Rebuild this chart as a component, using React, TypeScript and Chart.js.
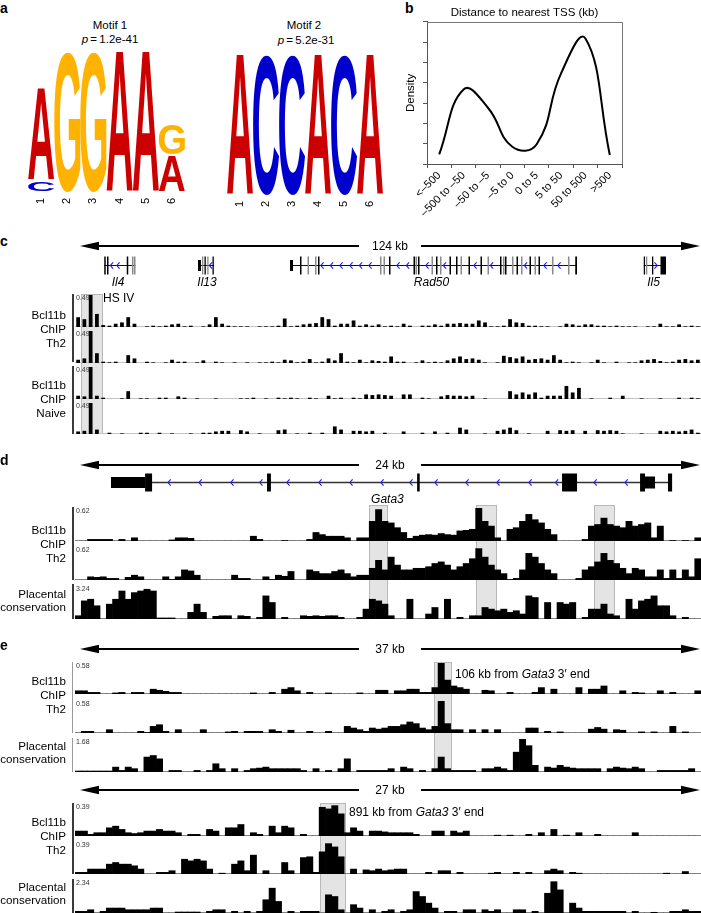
import React, { useEffect, useRef } from 'react';
import { Chart, registerables } from 'chart.js';

Chart.register(...registerables);

const FONT = '"Liberation Sans", Arial, Helvetica, sans-serif';
Chart.defaults.font.family = FONT;
Chart.defaults.color = '#000';

// ---------------- Panel a: sequence logos (bits) ----------------
const motifPositions = ['1', '2', '3', '4', '5', '6'];
const motif1LowerLetters = ['C', 'G', 'G', 'A', 'A', 'A'];
const motif1LowerBits = [0.17, 2.0, 2.0, 2.0, 2.0, 0.52];
const motif1UpperLetters = ['A', '', '', '', '', 'G'];
const motif1UpperBits = [1.33, 0, 0, 0, 0, 0.46];
const motif2Letters = ['A', 'C', 'C', 'A', 'C', 'A'];
const motif2Bits = [2.0, 2.0, 2.0, 2.0, 2.0, 2.0];

// ---------------- Panel b: density ----------------
const tssCategories = ['<\u2013500', '\u2013500 to \u201350', '\u201350 to \u20135', '\u20135 to 0', '0 to 5', '5 to 50', '50 to 500', '>500'];
const tssDensity = [0.47, 3.67, 2.77, 0.85, 0.97, 4.46, 6.18, 0.44];

// ---------------- Panel c: Il4 / Il13 / Rad50 / Il5 locus (124 kb) ----------------
const cSpanKb = 124;
const cGeneNames = ['Il4', 'Il13', 'Rad50', 'Il5'];
const cGeneStartKb = [4.85, 23.6, 42.0, 112.75];
const cGeneEndKb = [11.1, 26.75, 99.4, 117.2];
const cGeneLabelKb = [7.6, 25.4, 70.3, 114.7];
const cExonStartKb = [4.85, 5.4, 9.35, 10.4, 10.8, 23.6, 24.4, 24.9, 25.45, 26.5, 42.0, 44.0, 45.5, 47.0, 47.6, 60.0, 60.7, 61.8, 66.7, 67.1, 67.6, 70.3, 71.2, 72.0, 73.9, 75.2, 76.1, 77.7, 80.1, 81.5, 84.0, 84.6, 85.0, 86.4, 87.3, 88.2, 89.9, 90.9, 91.7, 94.4, 97.6, 99.05, 112.75, 113.2, 114.4, 116.1];
const cExonEndKb = [5.15, 5.7, 9.65, 10.7, 11.1, 24.2, 24.6, 25.15, 25.7, 26.75, 42.6, 44.3, 45.8, 47.3, 47.9, 60.3, 61.0, 62.1, 67.0, 67.4, 67.9, 70.6, 71.5, 72.3, 74.2, 75.5, 76.4, 78.0, 80.4, 81.8, 84.3, 84.9, 85.3, 86.7, 87.6, 88.5, 90.2, 91.2, 92.0, 94.7, 97.9, 99.4, 113.0, 113.45, 114.65, 117.2];
const cExonKind = ['cds', 'cds', 'cds', 'alt', 'alt', 'utr', 'alt', 'cds', 'alt', 'cds', 'utr', 'cds', 'alt', 'alt', 'cds', 'alt', 'alt', 'cds', 'cds', 'alt', 'cds', 'alt', 'cds', 'alt', 'cds', 'cds', 'alt', 'cds', 'cds', 'alt', 'cds', 'alt', 'cds', 'alt', 'cds', 'alt', 'cds', 'alt', 'cds', 'alt', 'alt', 'cds', 'cds', 'alt', 'cds', 'cds'];
const cChevronKb = [6.3, 7.6, 26.1, 48.4, 50.3, 52.2, 54.2, 56.1, 58.0, 63.6, 65.5, 69.4, 72.9, 79.0, 82.3, 89.1, 93.0, 95.8, 115.2];
const cChevronDir = ['<', '<', '<', '<', '<', '<', '<', '<', '<', '<', '<', '<', '<', '<', '<', '<', '<', '<', '>'];

const cTh2TrackA = [
  0.15, 0.12, 0.49, 0.2, 0.03, 0.02, 0.05, 0.07, 0.15, 0.05,
  0, 0.01, 0.02, 0.01, 0.02, 0.04, 0.05, 0.01, 0.02, 0,
  0.01, 0.04, 0.15, 0.05, 0.02, 0.01, 0.01, 0.01, 0, 0.01,
  0.01, 0.01, 0.02, 0.13, 0.01, 0.02, 0.04, 0.05, 0.06, 0.15,
  0.12, 0.02, 0.05, 0.05, 0.1, 0.02, 0.04, 0.02, 0.04, 0.01,
  0.02, 0.01, 0.05, 0.02, 0, 0.02, 0.02, 0.04, 0.02, 0.05,
  0.05, 0.06, 0.05, 0.05, 0.1, 0.07, 0.01, 0.01, 0.02, 0.12,
  0.07, 0.06, 0.02, 0.02, 0.01, 0.01, 0, 0.01, 0.05, 0.04,
  0.02, 0.04, 0.04, 0.02, 0.02, 0.01, 0.02, 0.01, 0.01, 0.01,
  0, 0.01, 0.01, 0.05, 0.01, 0.01, 0.04, 0.01, 0.02, 0.01,
];
const cTh2TrackB = [
  0.05, 0.07, 0.49, 0.15, 0.02, 0.01, 0.02, 0, 0.12, 0.07,
  0, 0.02, 0.01, 0, 0.01, 0.05, 0.02, 0.02, 0, 0.01,
  0.04, 0, 0.02, 0.01, 0, 0.01, 0, 0.01, 0, 0.01,
  0.01, 0.02, 0.01, 0.05, 0.04, 0.01, 0.02, 0.06, 0.01, 0.02,
  0.07, 0.04, 0.15, 0.02, 0.01, 0.05, 0.01, 0.04, 0.03, 0.02,
  0.1, 0.02, 0.02, 0, 0.01, 0.04, 0.01, 0.02, 0.01, 0.04,
  0.07, 0.1, 0.06, 0.07, 0.05, 0.01, 0, 0.01, 0.11, 0.09,
  0.07, 0.1, 0.05, 0.06, 0.07, 0.05, 0.12, 0.05, 0.01, 0.02,
  0.01, 0, 0.01, 0.05, 0.01, 0, 0.02, 0, 0.01, 0.01,
  0.04, 0.05, 0.06, 0.03, 0.01, 0.02, 0.05, 0.06, 0.04, 0.05,
];
const cNaiveTrackA = [
  0.05, 0.04, 0.49, 0.05, 0.02, 0, 0, 0.01, 0.12, 0,
  0.01, 0.01, 0, 0.02, 0.02, 0, 0.04, 0.02, 0, 0.01,
  0, 0, 0.01, 0, 0, 0, 0.01, 0.01, 0.02, 0,
  0.01, 0, 0.02, 0.01, 0.02, 0.01, 0, 0.02, 0.01, 0,
  0.05, 0.01, 0.02, 0, 0.02, 0.01, 0.07, 0.06, 0.07, 0.06,
  0.05, 0, 0.07, 0.07, 0, 0.02, 0.01, 0, 0.04, 0.06,
  0.05, 0.05, 0.04, 0.05, 0, 0.01, 0, 0, 0, 0.12,
  0.07, 0.1, 0.07, 0.1, 0.02, 0.05, 0.05, 0.05, 0.2, 0.1,
  0.17, 0, 0.01, 0, 0, 0.02, 0, 0.05, 0, 0,
  0.01, 0, 0, 0.01, 0, 0, 0.02, 0, 0.02, 0.01,
];
const cNaiveTrackB = [
  0.04, 0.05, 0.49, 0.07, 0, 0.02, 0, 0.01, 0, 0,
  0.02, 0.02, 0, 0.02, 0, 0.01, 0, 0, 0.01, 0,
  0.02, 0.02, 0.04, 0.05, 0.05, 0, 0.06, 0.04, 0, 0.01,
  0, 0, 0.06, 0.07, 0, 0.01, 0, 0.02, 0, 0.02,
  0, 0.12, 0.07, 0, 0.05, 0.05, 0.04, 0.05, 0, 0.02,
  0, 0, 0.04, 0, 0, 0.02, 0, 0.04, 0, 0.02,
  0, 0.1, 0.07, 0, 0, 0.01, 0, 0.05, 0.07, 0.1,
  0.06, 0, 0.01, 0, 0, 0.05, 0, 0.06, 0.05, 0.06,
  0, 0.05, 0, 0.06, 0.05, 0.06, 0.05, 0.01, 0, 0,
  0.01, 0, 0, 0.05, 0.04, 0.05, 0.04, 0.05, 0.07, 0.02,
];

// ---------------- Panel d: Gata3 locus (24 kb) ----------------
const dSpanKb = 24;
const dGeneNames = ['Gata3'];
const dGeneStartKb = [1.2];
const dGeneEndKb = [22.92];
const dGeneLabelKb = [11.9];
const dExonStartKb = [1.2, 2.52, 7.24, 13.05, 18.66, 21.68, 21.87, 22.76];
const dExonEndKb = [2.52, 2.79, 7.39, 13.15, 19.24, 21.87, 22.26, 22.92];
const dExonKind = ['utr', 'cds', 'cds', 'cds', 'cds', 'cds', 'mid', 'cds'];
const dChevronKb = [3.45, 4.65, 5.88, 7.0, 8.05, 9.29, 10.49, 11.69, 12.81, 13.78, 14.98, 16.18, 17.42, 18.45, 19.94, 21.14];
const dChevronDir = ['<', '<', '<', '<', '<', '<', '<', '<', '<', '<', '<', '<', '<', '<', '<', '<'];

const dTh2TrackA = [
  0, 0, 0.03, 0.03, 0.03, 0.03, 0, 0.03, 0, 0.06,
  0, 0, 0, 0, 0, 0.02, 0.06, 0.06, 0.05, 0,
  0, 0, 0, 0, 0, 0, 0, 0, 0.09, 0.03,
  0, 0, 0, 0.01, 0, 0, 0, 0.03, 0.16, 0.12,
  0.09, 0.09, 0.09, 0.06, 0, 0.06, 0.06, 0.37, 0.59, 0.37,
  0.34, 0.25, 0.16, 0.05, 0.09, 0.11, 0.12, 0.11, 0.14, 0.12,
  0.11, 0.19, 0.2, 0.22, 0.62, 0.37, 0.28, 0.06, 0, 0.22,
  0.25, 0.37, 0.5, 0.4, 0.34, 0.22, 0.12, 0, 0, 0,
  0, 0.03, 0.28, 0.31, 0.43, 0.31, 0.28, 0.25, 0.37, 0.28,
  0.31, 0.34, 0.06, 0.28, 0, 0.01, 0, 0.01, 0, 0.06,
];
const dTh2TrackB = [
  0, 0, 0.06, 0.05, 0.06, 0.03, 0.03, 0, 0.05, 0.09,
  0.06, 0, 0, 0, 0.06, 0.01, 0.06, 0.19, 0.17, 0.09,
  0, 0, 0, 0, 0, 0.09, 0.03, 0.03, 0, 0,
  0.06, 0.01, 0.09, 0.07, 0.16, 0, 0, 0.19, 0.16, 0.12,
  0.12, 0.16, 0.19, 0.12, 0.06, 0.09, 0.09, 0.22, 0.37, 0.19,
  0.43, 0.28, 0.19, 0.19, 0.22, 0.22, 0.25, 0.31, 0.34, 0.28,
  0.19, 0.25, 0.31, 0.4, 0.59, 0.43, 0.28, 0.19, 0.12, 0.01,
  0.03, 0.19, 0.5, 0.43, 0.31, 0.19, 0.12, 0, 0, 0,
  0.03, 0.19, 0.25, 0.34, 0.5, 0.37, 0.31, 0.22, 0.12, 0.22,
  0.19, 0.06, 0.06, 0.19, 0.03, 0.19, 0.03, 0.19, 0.06, 0.4,
];
const dConservation = [
  0.32, 1.78, 1.94, 1.3, 0, 1.46, 1.94, 2.75, 1.94, 2.59,
  2.75, 2.92, 2.75, 0.1, 0.1, 0.1, 0, 0, 0.65, 1.46,
  0.65, 0, 0.26, 0.32, 0.32, 0, 0.32, 0.26, 0, 0.16,
  2.27, 1.62, 0, 0.16, 0, 0, 0.32, 0.26, 0.32, 0.26,
  0.32, 0.32, 0.16, 0, 0, 0.16, 0.97, 1.94, 1.78, 1.46,
  0.32, 0, 0, 1.94, 0, 0, 0.49, 1.13, 0, 1.94,
  0, 0.16, 0, 0.32, 0.32, 1.13, 0.97, 0.81, 0.97, 0.65,
  0.81, 0.49, 2.27, 2.11, 0, 1.62, 0, 1.62, 1.46, 1.62,
  0, 0.16, 0.97, 0.97, 1.46, 0.49, 0.32, 0, 1.94, 0.97,
  1.78, 1.94, 2.27, 1.3, 1.3, 0.32, 0, 0.16, 0, 0,
];

// ---------------- Panel e: 106 kb (37 kb window) and 891 kb (27 kb window) ----------------
const eNearSpanKb = 37;
const eFarSpanKb = 27;
const eNearTh2TrackA = [
  0.06, 0.06, 0.03, 0.03, 0, 0, 0.02, 0.03, 0, 0.03,
  0.03, 0, 0.09, 0.07, 0.05, 0.03, 0.03, 0, 0, 0,
  0, 0, 0, 0, 0, 0, 0, 0, 0.02, 0,
  0, 0.03, 0, 0.09, 0.12, 0.06, 0, 0.03, 0, 0,
  0.02, 0, 0, 0, 0, 0.02, 0, 0, 0.07, 0.07,
  0, 0.06, 0.06, 0.09, 0.09, 0.03, 0.03, 0.12, 0.58, 0.26,
  0.15, 0.12, 0.09, 0, 0, 0.07, 0.06, 0, 0, 0.03,
  0, 0, 0, 0.03, 0.12, 0, 0.09, 0, 0, 0,
  0.12, 0, 0.09, 0.09, 0.15, 0, 0, 0.06, 0, 0.03,
  0.02, 0, 0, 0.06, 0, 0.03, 0, 0, 0, 0.06,
];
const eNearTh2TrackB = [
  0, 0.03, 0.03, 0, 0, 0.06, 0, 0, 0, 0,
  0.03, 0.01, 0.12, 0.15, 0.03, 0, 0.06, 0, 0, 0,
  0.06, 0, 0, 0, 0.02, 0.03, 0, 0.03, 0.03, 0.03,
  0, 0.06, 0.03, 0, 0.05, 0, 0, 0.03, 0, 0,
  0.03, 0, 0, 0.12, 0.09, 0.06, 0.03, 0.09, 0.07, 0.09,
  0.12, 0.12, 0.15, 0.2, 0.17, 0.09, 0.06, 0.12, 0.58, 0.17,
  0.06, 0.06, 0, 0.06, 0, 0.06, 0, 0.06, 0, 0,
  0, 0, 0.09, 0.09, 0, 0.03, 0, 0.02, 0, 0,
  0, 0, 0.07, 0.1, 0.07, 0, 0.06, 0.05, 0, 0,
  0.02, 0, 0.02, 0, 0, 0.12, 0, 0.02, 0, 0,
];
const eNearConservation = [
  0.05, 0.05, 0.05, 0.05, 0.05, 0.05, 0.25, 0.08, 0.25, 0.17,
  0, 0.76, 0.84, 0.67, 0, 0.08, 0.08, 0, 0, 0.08,
  0, 0.08, 0.42, 0.17, 0, 0.17, 0, 0.08, 0.17, 0.2,
  0.25, 0.17, 0.17, 0.17, 0.17, 0.17, 0.08, 0, 0.17, 0,
  0.08, 0, 0.17, 0.67, 0, 0.08, 0.08, 0.08, 0.08, 0.08,
  0.17, 0, 0.25, 0.17, 0, 0.08, 0, 0.17, 0.76, 0.17,
  0.08, 0.08, 0.08, 0.08, 0, 0.17, 0.17, 0.25, 0.17, 0.08,
  1.01, 1.68, 1.34, 0.34, 0, 0.25, 0.2, 0.34, 0.25, 0.2,
  0.17, 0.17, 0.17, 0.17, 0, 0.17, 0.25, 0.2, 0.17, 0.25,
  0.17, 0, 0, 0.08, 0.08, 0.08, 0.08, 0.08, 0.17, 0,
];
const eFarTh2TrackA = [
  0.06, 0.06, 0.02, 0.04, 0.04, 0.1, 0.12, 0.08, 0.04, 0.03,
  0.04, 0.06, 0.06, 0.08, 0.06, 0.06, 0.04, 0, 0.02, 0.02,
  0, 0.08, 0.06, 0, 0.1, 0.1, 0.14, 0, 0.04, 0.02,
  0, 0.12, 0.04, 0.12, 0.1, 0, 0.02, 0, 0, 0.35,
  0.33, 0.37, 0.27, 0.04, 0.1, 0.06, 0, 0.06, 0.06, 0.05,
  0.04, 0.04, 0.04, 0.04, 0.02, 0, 0, 0.06, 0.06, 0,
  0.06, 0.04, 0.06, 0, 0, 0, 0, 0.01, 0, 0.01,
  0, 0, 0.02, 0, 0.04, 0, 0.08, 0, 0.01, 0,
  0.04, 0, 0, 0.02, 0, 0, 0, 0, 0, 0.04,
  0, 0, 0, 0, 0, 0, 0, 0, 0, 0,
];
const eFarTh2TrackB = [
  0.02, 0.02, 0.06, 0.06, 0.06, 0.12, 0.14, 0.12, 0.12, 0.1,
  0.06, 0, 0, 0.02, 0.02, 0.04, 0, 0.18, 0.16, 0.18,
  0.16, 0.06, 0, 0.01, 0, 0.12, 0.16, 0.04, 0.23, 0,
  0.04, 0, 0, 0.14, 0.04, 0, 0.2, 0.21, 0.02, 0.27,
  0.37, 0.33, 0.21, 0, 0.06, 0, 0.05, 0.04, 0.06, 0.04,
  0.05, 0.06, 0.06, 0, 0, 0, 0.02, 0, 0.04, 0.04,
  0, 0.02, 0, 0, 0, 0, 0.01, 0.02, 0, 0,
  0.02, 0, 0.02, 0, 0, 0.04, 0.06, 0.04, 0, 0.02,
  0.01, 0, 0, 0, 0, 0, 0, 0, 0, 0,
  0, 0, 0, 0, 0.01, 0, 0, 0.03, 0, 0,
];
const eFarConservation = [
  0.12, 0.12, 0.23, 0, 0.12, 0.35, 0.35, 0.35, 0.23, 0.23,
  0.23, 0.23, 0.35, 0.35, 0, 0, 0.07, 0.07, 0.07, 0.07,
  0, 0.12, 0.23, 0.23, 0, 0.12, 0, 0.12, 0, 0.12,
  0.94, 1.76, 0.82, 0, 0.12, 0, 0.12, 0.12, 0.12, 0,
  1.29, 1.17, 0.23, 0, 0.59, 0.35, 0, 0.23, 0, 0.12,
  0.23, 0, 0.12, 0.23, 1.52, 1.17, 0.7, 0.35, 0, 0.12,
  0.12, 0, 0.23, 0.23, 0, 0.23, 0.12, 0.23, 0, 0,
  0.23, 0.23, 0, 0.12, 0, 1.4, 2.22, 1.64, 0, 0.7,
  0.35, 0.12, 0.12, 0.12, 0.12, 0.12, 0.12, 0.12, 0, 0.12,
  0, 0, 0.05, 0, 0, 0.12, 0.12, 0.23, 0.12, 0.12,
];

// ---------------- helpers ----------------
const letterColors: Record<string, string> = { A: '#cc0000', C: '#0000cc', G: '#ffb300', T: '#008000' };
const exonStyle: Record<string, { h: number; c: string }> = {
  cds: { h: 18, c: '#000' },
  alt: { h: 18, c: '#8a8a8a' },
  utr: { h: 11, c: '#000' },
  mid: { h: 12, c: '#000' },
};

function drawLetter(ctx: CanvasRenderingContext2D, ch: string, x: number, y: number, w: number, h: number) {
  if (!ch || w <= 0 || h <= 0) return;
  ctx.save();
  ctx.font = `bold 200px ${FONT}`;
  const m = ctx.measureText(ch);
  const gl = m.actualBoundingBoxLeft;
  const gw = m.actualBoundingBoxLeft + m.actualBoundingBoxRight;
  const ga = m.actualBoundingBoxAscent;
  const gh = m.actualBoundingBoxAscent + m.actualBoundingBoxDescent;
  ctx.translate(x, y);
  ctx.scale(w / gw, h / gh);
  ctx.fillStyle = letterColors[ch] || '#000';
  ctx.textAlign = 'left';
  ctx.textBaseline = 'alphabetic';
  ctx.fillText(ch, gl, ga);
  ctx.restore();
}

function makeLogoPlugin(letterSets: string[][]) {
  return {
    id: 'logoLetters',
    afterDatasetsDraw(chart: any) {
      const ctx = chart.ctx;
      chart.data.datasets.forEach((_d: any, di: number) => {
        const meta = chart.getDatasetMeta(di);
        meta.data.forEach((el: any, i: number) => {
          const p = el.getProps(['x', 'y', 'base', 'width'], true);
          const top = Math.min(p.y, p.base);
          const bottom = Math.max(p.y, p.base);
          if (bottom - top < 3) return;
          drawLetter(ctx, letterSets[di][i], p.x - p.width / 2, top + 1.5, p.width, bottom - top - 3);
        });
      });
    },
  };
}

function logoConfig(lower: number[], upper: number[], letterSets: string[][], padL: number, padR: number): any {
  return {
    type: 'bar',
    data: {
      labels: motifPositions,
      datasets: [
        { data: lower, backgroundColor: 'rgba(0,0,0,0)', borderWidth: 0, barPercentage: 1, categoryPercentage: 1 },
        { data: upper, backgroundColor: 'rgba(0,0,0,0)', borderWidth: 0, barPercentage: 1, categoryPercentage: 1 },
      ],
    },
    options: {
      animation: false,
      responsive: false,
      layout: { padding: { left: padL, right: padR, top: 10, bottom: 0 } },
      plugins: { legend: { display: false }, tooltip: { enabled: false } },
      scales: {
        x: {
          stacked: true,
          grid: { display: false, drawTicks: false },
          border: { display: false },
          ticks: { minRotation: 90, maxRotation: 90, padding: 5, color: '#000', font: { family: FONT, size: 11 } },
          afterFit: (s: any) => { s.height = 27; },
        },
        y: { stacked: true, display: false, min: 0, max: 2 },
      },
    },
    plugins: [makeLogoPlugin(letterSets)],
  };
}

const frameBox = {
  id: 'frameBox',
  afterDraw(chart: any) {
    const { left, top, right, bottom } = chart.chartArea;
    const ctx = chart.ctx;
    ctx.save();
    ctx.strokeStyle = '#777';
    ctx.lineWidth = 1;
    ctx.beginPath();
    ctx.moveTo(left, Math.round(top) + 0.5);
    ctx.lineTo(Math.round(right) + 0.5, Math.round(top) + 0.5);
    ctx.lineTo(Math.round(right) + 0.5, bottom);
    ctx.stroke();
    ctx.restore();
  },
};

function densityConfig(): any {
  return {
    type: 'line',
    data: {
      labels: tssCategories,
      datasets: [{ data: tssDensity, borderColor: '#000', borderWidth: 2, pointRadius: 0, tension: 0.45, fill: false }],
    },
    options: {
      animation: false,
      responsive: false,
      layout: { padding: { left: 0, right: 79, top: 0, bottom: 0 } },
      plugins: {
        legend: { display: false },
        tooltip: { enabled: false },
        title: {
          display: true,
          text: 'Distance to nearest TSS (kb)',
          fullSize: false,
          color: '#000',
          font: { family: FONT, size: 11.5, weight: 'normal' },
          padding: { top: 6, bottom: 2 },
        },
      },
      scales: {
        x: {
          offset: true,
          grid: { offset: true, drawOnChartArea: false, drawTicks: true, tickLength: 4, color: '#555' },
          border: { color: '#555' },
          ticks: { autoSkip: false, minRotation: 45, maxRotation: 45, padding: 1, color: '#000', font: { family: FONT, size: 11 } },
          afterFit: (s: any) => { s.height = 66; },
        },
        y: {
          min: 0,
          max: 7,
          ticks: { display: false, stepSize: 1 },
          grid: { drawOnChartArea: false, drawTicks: true, tickLength: 4, color: '#555' },
          border: { color: '#555' },
          title: { display: true, text: 'Density', color: '#000', font: { family: FONT, size: 11.5 }, padding: { top: 9, bottom: 0 } },
          afterFit: (s: any) => { s.width = 32; },
        },
      },
    },
    plugins: [frameBox],
  };
}

function makeGenePlugin(spec: any) {
  return {
    id: 'geneModel',
    afterDraw(chart: any) {
      const ctx: CanvasRenderingContext2D = chart.ctx;
      const xs = chart.scales.x;
      const px = (v: number) => xs.getPixelForValue(v);
      const x0 = px(0);
      const x1 = px(spec.spanKb);
      const cx = (x0 + x1) / 2;
      const ay = spec.arrowY;
      const head = 19;
      const half = 4.2;
      const gap = 31;
      ctx.save();
      ctx.strokeStyle = '#000';
      ctx.lineWidth = 2;
      ctx.beginPath();
      ctx.moveTo(x0 + head - 2, ay);
      ctx.lineTo(cx - gap, ay);
      ctx.moveTo(cx + gap, ay);
      ctx.lineTo(x1 - head + 2, ay);
      ctx.stroke();
      ctx.fillStyle = '#000';
      ctx.beginPath();
      ctx.moveTo(x0, ay); ctx.lineTo(x0 + head, ay - half); ctx.lineTo(x0 + head, ay + half); ctx.closePath(); ctx.fill();
      ctx.beginPath();
      ctx.moveTo(x1, ay); ctx.lineTo(x1 - head, ay - half); ctx.lineTo(x1 - head, ay + half); ctx.closePath(); ctx.fill();
      ctx.font = `12px ${FONT}`;
      ctx.textAlign = 'center';
      ctx.textBaseline = 'middle';
      ctx.fillText(spec.scaleLabel, cx, ay + 0.5);

      const gy = spec.geneY;
      (spec.geneStart || []).forEach((s: number, i: number) => {
        ctx.strokeStyle = spec.lineColor;
        ctx.lineWidth = spec.lineWidth;
        ctx.beginPath();
        ctx.moveTo(px(s), gy);
        ctx.lineTo(px(spec.geneEnd[i]), gy);
        ctx.stroke();
      });
      ctx.strokeStyle = '#1a1aff';
      ctx.lineWidth = 1.1;
      (spec.chevronKb || []).forEach((k: number, i: number) => {
        const x = px(k);
        const d = spec.chevronDir[i] === '<' ? 1 : -1;
        ctx.beginPath();
        ctx.moveTo(x + d * 1.6, gy - 3.2);
        ctx.lineTo(x - d * 1.2, gy);
        ctx.lineTo(x + d * 1.6, gy + 3.2);
        ctx.stroke();
      });
      (spec.exonStart || []).forEach((s: number, i: number) => {
        const st = exonStyle[spec.exonKind[i]];
        const a = px(s);
        const b = Math.max(px(spec.exonEnd[i]), a + 1.3);
        ctx.fillStyle = st.c;
        ctx.fillRect(a, gy - st.h / 2, b - a, st.h);
      });
      ctx.fillStyle = '#000';
      ctx.font = `italic 12px ${FONT}`;
      ctx.textAlign = 'center';
      ctx.textBaseline = 'middle';
      (spec.geneNames || []).forEach((n: string, i: number) => {
        ctx.fillText(n, px(spec.labelKb[i]), spec.labelY);
      });
      ctx.restore();
    },
  };
}

function geneConfig(spec: any): any {
  return {
    type: 'scatter',
    data: { datasets: [] },
    options: {
      animation: false,
      responsive: false,
      layout: { padding: { left: 80, right: 1, top: 0, bottom: 0 } },
      plugins: { legend: { display: false }, tooltip: { enabled: false } },
      scales: {
        x: { type: 'linear', min: 0, max: spec.spanKb, display: false },
        y: { min: 0, max: 1, display: false },
      },
    },
    plugins: [makeGenePlugin(spec)],
  };
}

const baselinePlugin = {
  id: 'trackBaseline',
  beforeDatasetsDraw(chart: any) {
    const { left, right, bottom } = chart.chartArea;
    const ctx = chart.ctx;
    ctx.save();
    ctx.strokeStyle = '#c4c4c4';
    ctx.lineWidth = 1;
    ctx.beginPath();
    ctx.moveTo(left, bottom - 0.5);
    ctx.lineTo(right, bottom - 0.5);
    ctx.stroke();
    ctx.restore();
  },
};

function trackConfig(values: number[], max: number, barPct: number): any {
  return {
    type: 'bar',
    data: {
      labels: values.map((_v, i) => String(i)),
      datasets: [{ data: values, backgroundColor: '#000', borderWidth: 0, barPercentage: barPct, categoryPercentage: 1 }],
    },
    options: {
      animation: false,
      responsive: false,
      layout: { padding: 0 },
      plugins: { legend: { display: false }, tooltip: { enabled: false } },
      scales: {
        x: { display: false },
        y: { display: false, min: 0, max },
      },
    },
    plugins: [baselinePlugin],
  };
}

function ChartCanvas({ left, top, width, height, build }: any) {
  const ref = useRef<HTMLCanvasElement | null>(null);
  useEffect(() => {
    const chart = new Chart(ref.current as HTMLCanvasElement, build());
    return () => chart.destroy();
  }, []);
  return (
    <div style={{ position: 'absolute', left, top, width, height }}>
      <canvas ref={ref} width={width} height={height} style={{ display: 'block', width, height }} />
    </div>
  );
}

function Txt({ x, y, size = 12, align = 'left', bold = false, italic = false, color = '#000', children }: any) {
  const h = Math.round(size * 1.4);
  const style: any = {
    position: 'absolute',
    top: y - h / 2,
    height: h,
    lineHeight: h + 'px',
    fontSize: size,
    fontWeight: bold ? 'bold' : 'normal',
    fontStyle: italic ? 'italic' : 'normal',
    whiteSpace: 'nowrap',
    color,
  };
  if (align === 'left') style.left = x;
  else if (align === 'right') { style.left = x - 400; style.width = 400; style.textAlign = 'right'; }
  else { style.left = x - 200; style.width = 400; style.textAlign = 'center'; }
  return <div style={style}>{children}</div>;
}

function Box({ x, y, w, h }: any) {
  return <div style={{ position: 'absolute', left: x, top: y, width: w, height: h, background: '#e4e4e4', border: '1px solid #b8b8b8', boxSizing: 'border-box' }} />;
}

function VLine({ x, y, h, w = 2, color = '#3a3a3a' }: any) {
  return <div style={{ position: 'absolute', left: x, top: y, width: w, height: h, background: color }} />;
}

function Track({ top, bottom, values, max, pct = 1, maxLabel }: any) {
  const h = bottom - top + 1;
  return (
    <>
      <ChartCanvas left={75} top={top} width={626} height={h} build={() => trackConfig(values, max, pct)} />
      <Txt x={76} y={top + 3} size={7} color="#333">{maxLabel}</Txt>
    </>
  );
}

const TRACK_LEFT_LABEL_X = 66;

export default function App() {
  return (
    <div style={{ position: 'absolute', left: 0, top: 0, width: 701, height: 913, background: '#fff', fontFamily: FONT, color: '#000', overflow: 'hidden' }}>
      {/* highlight boxes */}
      <Box x={81} y={294} w={22} h={140} />
      <Box x={369} y={505} w={19} h={114} />
      <Box x={476} y={505} w={21} h={114} />
      <Box x={594} y={505} w={21} h={114} />
      <Box x={434} y={662} w={18} h={110} />
      <Box x={320} y={803} w={26} h={110} />

      {/* axis lines */}
      <VLine x={72} y={294} h={68} />
      <VLine x={72} y={366} h={68} />
      <VLine x={72} y={507} h={73} />
      <VLine x={72} y={584} h={35} />
      <VLine x={72} y={662} h={71} w={1} color="#9a9a9a" />
      <VLine x={72} y={738} h={34} w={1} color="#9a9a9a" />
      <VLine x={72} y={803} h={71} />
      <VLine x={72} y={879} h={34} />

      {/* panel a */}
      <Txt x={0} y={8} size={14} bold>a</Txt>
      <Txt x={110} y={25} size={11.5} align="center">Motif 1</Txt>
      <Txt x={110} y={39} size={11.5} align="center"><i>p</i>{'\u2009=\u2009'}1.2e-41</Txt>
      <Txt x={304} y={25} size={11.5} align="center">Motif 2</Txt>
      <Txt x={306} y={40} size={11.5} align="center"><i>p</i>{'\u2009=\u2009'}5.2e-31</Txt>
      <ChartCanvas left={20} top={40} width={175} height={180}
        build={() => logoConfig(motif1LowerBits, motif1UpperBits, [motif1LowerLetters, motif1UpperLetters], 8, 10)} />
      <ChartCanvas left={219} top={43} width={175} height={180}
        build={() => logoConfig(motif2Bits, [0, 0, 0, 0, 0, 0], [motif2Letters, ['', '', '', '', '', '']], 8, 11)} />

      {/* panel b */}
      <Txt x={405} y={8} size={14} bold>b</Txt>
      <ChartCanvas left={395} top={0} width={306} height={230} build={densityConfig} />

      {/* panel c */}
      <Txt x={0} y={241} size={14} bold>c</Txt>
      <ChartCanvas left={0} top={236} width={701} height={56}
        build={() => geneConfig({
          spanKb: cSpanKb, scaleLabel: '124 kb', arrowY: 10, geneY: 29.5, labelY: 47,
          geneNames: cGeneNames, geneStart: cGeneStartKb, geneEnd: cGeneEndKb, labelKb: cGeneLabelKb,
          exonStart: cExonStartKb, exonEnd: cExonEndKb, exonKind: cExonKind,
          chevronKb: cChevronKb, chevronDir: cChevronDir, lineColor: '#111', lineWidth: 1,
        })} />
      <Track top={295} bottom={326} values={cTh2TrackA} max={0.49} pct={0.6} maxLabel="0.49" />
      <Track top={331} bottom={362} values={cTh2TrackB} max={0.49} pct={0.6} maxLabel="0.49" />
      <Track top={367} bottom={398} values={cNaiveTrackA} max={0.49} pct={0.6} maxLabel="0.49" />
      <Track top={403} bottom={433} values={cNaiveTrackB} max={0.49} pct={0.6} maxLabel="0.49" />
      <Txt x={103} y={298} size={12}>HS IV</Txt>
      <Txt x={TRACK_LEFT_LABEL_X} y={315} size={11.6} align="right">Bcl11b</Txt>
      <Txt x={TRACK_LEFT_LABEL_X} y={329} size={11.6} align="right">ChIP</Txt>
      <Txt x={TRACK_LEFT_LABEL_X} y={343} size={11.6} align="right">Th2</Txt>
      <Txt x={TRACK_LEFT_LABEL_X} y={385} size={11.6} align="right">Bcl11b</Txt>
      <Txt x={TRACK_LEFT_LABEL_X} y={399} size={11.6} align="right">ChIP</Txt>
      <Txt x={TRACK_LEFT_LABEL_X} y={413} size={11.6} align="right">Naive</Txt>

      {/* panel d */}
      <Txt x={0} y={460} size={14} bold>d</Txt>
      <ChartCanvas left={0} top={455} width={701} height={52}
        build={() => geneConfig({
          spanKb: dSpanKb, scaleLabel: '24 kb', arrowY: 10, geneY: 27.5, labelY: 45,
          geneNames: dGeneNames, geneStart: dGeneStartKb, geneEnd: dGeneEndKb, labelKb: dGeneLabelKb,
          exonStart: dExonStartKb, exonEnd: dExonEndKb, exonKind: dExonKind,
          chevronKb: dChevronKb, chevronDir: dChevronDir, lineColor: '#333', lineWidth: 1.5,
        })} />
      <Track top={508} bottom={540} values={dTh2TrackA} max={0.62} maxLabel="0.62" />
      <Track top={547} bottom={579} values={dTh2TrackB} max={0.62} maxLabel="0.62" />
      <Track top={586} bottom={618} values={dConservation} max={3.24} maxLabel="3.24" />
      <Txt x={TRACK_LEFT_LABEL_X} y={530} size={11.6} align="right">Bcl11b</Txt>
      <Txt x={TRACK_LEFT_LABEL_X} y={544} size={11.6} align="right">ChIP</Txt>
      <Txt x={TRACK_LEFT_LABEL_X} y={558} size={11.6} align="right">Th2</Txt>
      <Txt x={TRACK_LEFT_LABEL_X} y={594} size={11.6} align="right">Placental</Txt>
      <Txt x={TRACK_LEFT_LABEL_X} y={607} size={11.6} align="right">conservation</Txt>

      {/* panel e */}
      <Txt x={0} y={645} size={14} bold>e</Txt>
      <ChartCanvas left={0} top={640} width={701} height={20}
        build={() => geneConfig({ spanKb: eNearSpanKb, scaleLabel: '37 kb', arrowY: 9, geneY: 0, labelY: 0 })} />
      <Track top={663} bottom={693} values={eNearTh2TrackA} max={0.58} maxLabel="0.58" />
      <Track top={701} bottom={732} values={eNearTh2TrackB} max={0.58} maxLabel="0.58" />
      <Track top={739} bottom={771} values={eNearConservation} max={1.68} maxLabel="1.68" />
      <Txt x={455} y={674} size={12}>106 kb from <i>Gata3</i> 3{'\u2032'} end</Txt>
      <Txt x={TRACK_LEFT_LABEL_X} y={681} size={11.6} align="right">Bcl11b</Txt>
      <Txt x={TRACK_LEFT_LABEL_X} y={695} size={11.6} align="right">ChIP</Txt>
      <Txt x={TRACK_LEFT_LABEL_X} y={709} size={11.6} align="right">Th2</Txt>
      <Txt x={TRACK_LEFT_LABEL_X} y={746} size={11.6} align="right">Placental</Txt>
      <Txt x={TRACK_LEFT_LABEL_X} y={759} size={11.6} align="right">conservation</Txt>

      <ChartCanvas left={0} top={781} width={701} height={20}
        build={() => geneConfig({ spanKb: eFarSpanKb, scaleLabel: '27 kb', arrowY: 9, geneY: 0, labelY: 0 })} />
      <Track top={804} bottom={835} values={eFarTh2TrackA} max={0.39} maxLabel="0.39" />
      <Track top={842} bottom={873} values={eFarTh2TrackB} max={0.39} maxLabel="0.39" />
      <Track top={880} bottom={912} values={eFarConservation} max={2.34} maxLabel="2.34" />
      <Txt x={349} y={812} size={12}>891 kb from <i>Gata3</i> 3{'\u2032'} end</Txt>
      <Txt x={TRACK_LEFT_LABEL_X} y={822} size={11.6} align="right">Bcl11b</Txt>
      <Txt x={TRACK_LEFT_LABEL_X} y={836} size={11.6} align="right">ChIP</Txt>
      <Txt x={TRACK_LEFT_LABEL_X} y={850} size={11.6} align="right">Th2</Txt>
      <Txt x={TRACK_LEFT_LABEL_X} y={887} size={11.6} align="right">Placental</Txt>
      <Txt x={TRACK_LEFT_LABEL_X} y={900} size={11.6} align="right">conservation</Txt>
    </div>
  );
}
